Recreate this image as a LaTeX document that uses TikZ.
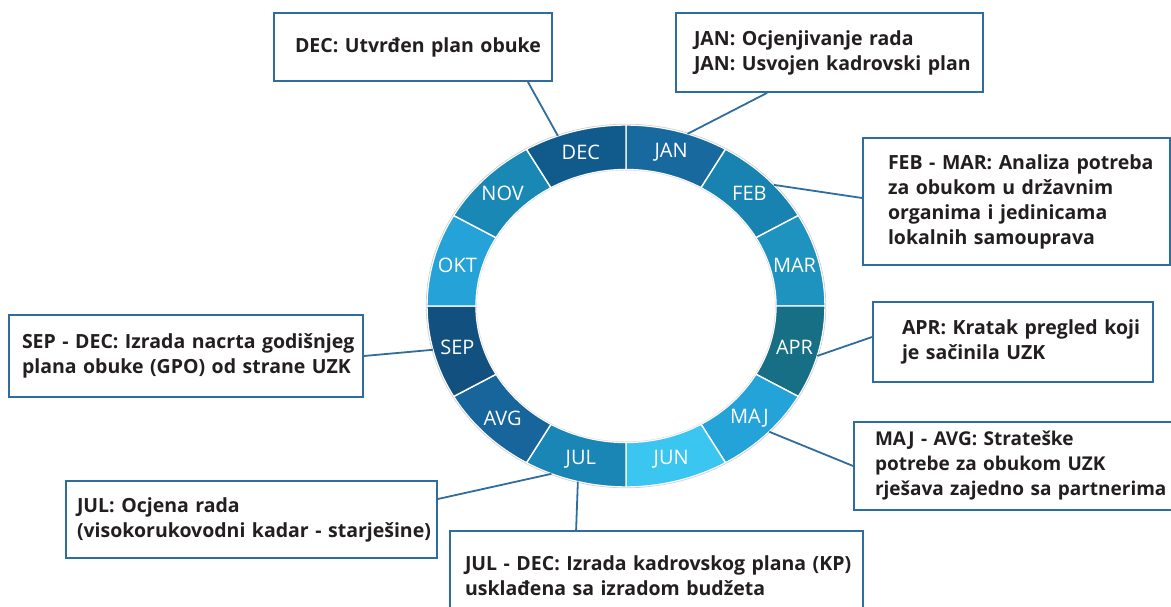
\documentclass[tikz,border=0pt]{standalone}
\usepackage{fontspec}
\setmainfont{Open Sans}
\usetikzlibrary{calc}
\definecolor{cJAN}{RGB}{24,106,158}
\definecolor{cFEB}{RGB}{24,131,176}
\definecolor{cMAR}{RGB}{31,147,191}
\definecolor{cAPR}{RGB}{22,111,132}
\definecolor{cMAJ}{RGB}{36,163,217}
\definecolor{cJUN}{RGB}{58,198,240}
\definecolor{cJUL}{RGB}{26,134,181}
\definecolor{cAVG}{RGB}{23,101,155}
\definecolor{cSEP}{RGB}{18,80,127}
\definecolor{cOKT}{RGB}{37,162,216}
\definecolor{cNOV}{RGB}{26,136,181}
\definecolor{cDEC}{RGB}{17,90,140}
\definecolor{boxblue}{RGB}{47,109,158}
\definecolor{txt}{RGB}{35,31,32}
\begin{document}
\begin{tikzpicture}[x=1pt,y=1pt,
  box/.style={draw=boxblue, line width=1.8pt, fill=white, text=txt,
    font=\bfseries\fontsize{19.5}{25}\selectfont, align=left, inner ysep=0pt},
  conn/.style={draw=boxblue, line width=1.8pt},
  mlabel/.style={text=white, font=\fontsize{20}{22}\selectfont, inner sep=0pt}]
\useasboundingbox (0,0) rectangle (1171,606);
\coordinate (C) at (626,300);
% ring
\foreach \a/\b/\col/\m in {60/90/cJAN/JAN, 30/60/cFEB/FEB, 0/30/cMAR/MAR, -30/0/cAPR/APR,
  -60/-30/cMAJ/MAJ, -90/-60/cJUN/JUN, -120/-90/cJUL/JUL, -150/-120/cAVG/AVG,
  180/210/cSEP/SEP, 150/180/cOKT/OKT, 120/150/cNOV/NOV, 90/120/cDEC/DEC} {
  \fill[\col, draw=white, line width=1.4pt]
    ($(C)+(\a:199pt and 181pt)$) arc[start angle=\a, end angle=\b, x radius=199pt, y radius=181pt]
    -- ($(C)+(\b:150pt and 136.5pt)$) arc[start angle=\b, end angle=\a, x radius=150pt, y radius=136.5pt]
    -- cycle;
  \node[mlabel] (m\m) at ($(C)+({(\a+\b)/2}:174.5pt and 158.75pt)$) {\m};
}
\draw[black!18, line width=0.7pt] (C) ellipse [x radius=199.8pt, y radius=181.8pt];
\draw[black!12, line width=0.6pt] (C) ellipse [x radius=149.3pt, y radius=135.8pt];
% ring anchor points
\coordinate (rDEC) at ($(C)+(110:199pt and 181pt)$);
\coordinate (rJAN) at ($(C)+(72:199pt and 181pt)$);
\coordinate (rFEB) at ($(C)+(42:199pt and 181pt)$);
\coordinate (rAPR) at ($(C)+(-16:199pt and 181pt)$);
\coordinate (rMAJ) at ($(C)+(-44:199pt and 181pt)$);
\coordinate (rSEP) at ($(C)+(194:199pt and 181pt)$);
\coordinate (rJUL) at ($(C)+(248:199pt and 181pt)$);
\coordinate (rJULb) at ($(C)+(256:199pt and 181pt)$);
% boxes
\node[box, minimum width=278pt, minimum height=68pt, text width=236pt, inner xsep=21pt] (dec) at (413,559)
  {\mbox{DEC: Utvrđen plan obuke}};
\node[box, minimum width=307pt, minimum height=79pt, text width=271pt, inner xsep=18pt] (jan) at (829.5,553.5)
  {\mbox{JAN: Ocjenjivanje rada}\\\mbox{JAN: Usvojen kadrovski plan}};
\node[box, minimum width=307pt, minimum height=127pt, text width=257pt, inner xsep=25pt] (feb) at (1016.5,404.5)
  {\mbox{FEB - MAR: Analiza potreba}\\\mbox{za obukom u državnim}\\\mbox{organima i jedinicama}\\\mbox{lokalnih samouprava}};
\node[box, minimum width=345pt, minimum height=88pt, text width=303pt, inner xsep=21pt,
  font=\bfseries\fontsize{19}{25}\selectfont] (maj) at (1026.5,140)
  {\mbox{MAJ - AVG: Strateške}\\\mbox{potrebe za obukom UZK}\\\mbox{rješava zajedno sa partnerima}};
\node[box, minimum width=280pt, minimum height=80pt, text width=222pt, inner xsep=29pt] (apr) at (1013,264)
  {\mbox{APR: Kratak pregled koji}\\\mbox{je sačinila UZK}};
\node[box, minimum width=354pt, minimum height=82pt, text width=328pt, inner xsep=13pt] (sep) at (186,250)
  {\mbox{SEP - DEC: Izrada nacrta godišnjeg}\\\mbox{plana obuke (GPO) od strane UZK}};
\node[box, minimum width=371pt, minimum height=77pt, text width=349pt, inner xsep=11pt] (jul) at (251.5,86.5)
  {\mbox{JUL: Ocjena rada}\\\mbox{(visokorukovodni kadar - starješine)}};
\node[box, minimum width=413pt, minimum height=89pt, text width=383pt, inner xsep=15pt] (juldec) at (656.5,30.5)
  {\mbox{JUL - DEC: Izrada kadrovskog plana (KP)}\\\mbox{usklađena sa izradom budžeta}};
% connectors
\draw[conn] ([xshift=-25pt]dec.south east) -- (rDEC);
\draw[conn] ([xshift=92pt]jan.south west) -- (rJAN);
\draw[conn] ([yshift=3.5pt]feb.west) -- (rFEB);
\draw[conn] ([yshift=5pt]apr.west) -- (rAPR);
\draw[conn] (maj.west) -- (rMAJ);
\draw[conn] (sep.east) -- (rSEP);
\draw[conn] ([yshift=20.5pt]jul.east) -- (rJUL);
\draw[conn] ([xshift=127pt]juldec.north west) -- (rJULb);
\end{tikzpicture}
\end{document}
